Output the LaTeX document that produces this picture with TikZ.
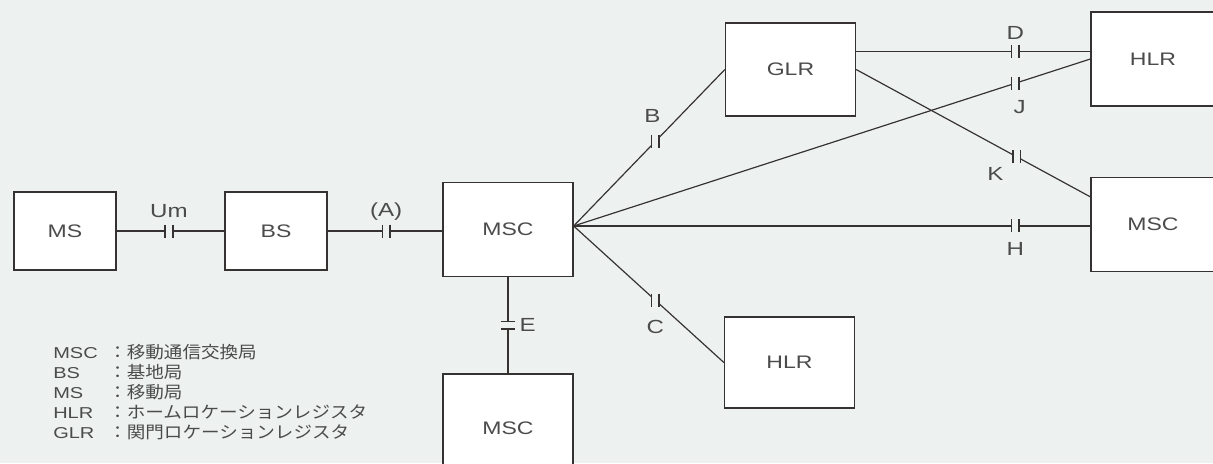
\documentclass[tikz,border=0pt]{standalone}
\usepackage{fontspec}
\setmainfont{Liberation Sans}[FakeStretch=1.27]
\newfontfamily\jp{Noto Sans CJK JP}[FakeStretch=1.1]
\usetikzlibrary{calc}

\definecolor{paper}{RGB}{237,242,240}
\definecolor{ink}{RGB}{55,50,50}
\definecolor{txt}{RGB}{75,75,75}
\newcommand{\legendjp}{\jp\fontsize{12}{14}\selectfont}

\tikzset{
  unit/.style={draw=ink, fill=white, line width=0.9pt, inner sep=0pt, text=txt, font=\fontsize{12.9}{15}\selectfont},
  smallunit/.style={unit, minimum width=2.55cm, minimum height=1.95cm},
  bigunit/.style={unit, minimum width=3.25cm, minimum height=2.35cm},
  link/.style={draw=ink, line width=0.85pt},
  iflabel/.style={text=txt, inner sep=0pt, font=\fontsize{13.5}{15}\selectfont},
  legend/.style={text=txt, inner sep=0pt, font=\fontsize{11.2}{13}\selectfont},
  capv/.pic={
    \fill[paper] (-3.2,-6) rectangle (3.2,6);
    \draw[ink, line width=1.1pt] (-3.8,-6.5) -- (-3.8,6.5) (3.8,-6.5) -- (3.8,6.5);
  },
  caph/.pic={
    \fill[paper] (-6,-3.2) rectangle (6,3.2);
    \draw[ink, line width=1.1pt] (-7,-3.8) -- (7,-3.8) (-7,3.8) -- (7,3.8);
  },
}

\begin{document}
\begin{tikzpicture}[x=0.025cm, y=-0.025cm]
  \clip (0,0) rectangle (1213,463);
  \fill[paper] (0,0) rectangle (1213,463);

  % units
  \node[smallunit] (ms) at (65,231) {MS};
  \node[smallunit] (bs) at (276,231) {BS};
  \node[bigunit] (msc) at (508,229.5) {MSC};
  \node[bigunit, minimum height=2.7cm] (mscB) at (508,428) {MSC};
  \node[bigunit, minimum height=2.325cm] (glr) at (790.5,69.5) {GLR};
  \node[bigunit, minimum height=2.275cm] (hlrB) at (789.5,362.5) {HLR};
  \node[bigunit, minimum width=3.1cm] (hlrT) at (1153,59) {HLR};
  \node[bigunit, minimum width=3.1cm] (mscR) at (1153,224.5) {MSC};

  \coordinate (hub) at ([yshift=2.5pt]msc.east);
  \coordinate (glrD) at ($(glr.north east)!0.31!(glr.south east)$);
  \coordinate (mscK) at ($(mscR.north west)!0.21!(mscR.south west)$);

  % interfaces
  \draw[link] (ms) -- (bs) pic[pos=0.486]{capv} node[pos=0.486, iflabel, yshift=14.2pt] (lUm) {Um};
  \draw[link] (bs.east) -- (bs.east -| msc.west) pic[pos=0.51]{capv} node[pos=0.51, iflabel, yshift=13.5pt] (lA) {(A)};
  \draw[link] (hub) -- (glr.west) pic[pos=0.54]{capv} node[pos=0.54, iflabel, xshift=-2pt, yshift=18.5pt] (lB) {B};
  \draw[link] (hub) -- (hlrT.west) pic[pos=0.855]{capv} node[pos=0.855, iflabel, xshift=3pt, yshift=-17pt] (lJ) {J};
  \draw[link] (hub) -- (hub -| mscR.west) pic[pos=0.855]{capv} node[pos=0.855, iflabel, yshift=-16pt] (lH) {H};
  \draw[link] (hub) -- (hlrB.west) pic[pos=0.543]{capv} node[pos=0.543, iflabel, yshift=-19pt] (lC) {C};
  \draw[link] (glrD) -- (glrD -| hlrT.west) pic[pos=0.68]{capv} node[pos=0.68, iflabel, yshift=13.5pt] (lD) {D};
  \draw[link] (glr.east) -- (mscK) pic[pos=0.685]{capv} node[pos=0.685, iflabel, xshift=-15pt, yshift=-12pt] (lK) {K};
  \draw[link] (msc.south) -- (mscB.north) pic[pos=0.5]{caph} node[pos=0.5, iflabel, xshift=14pt] (lE) {E};

  % legend
  \node[legend, anchor=base west] (legMSC) at (53,358) {\makebox[39.1pt][l]{MSC}{\legendjp ：移動通信交換局}};
  \node[legend, anchor=base west] (legBS) at (53,378) {\makebox[39.1pt][l]{BS}{\legendjp ：基地局}};
  \node[legend, anchor=base west] (legMS) at (53,398) {\makebox[39.1pt][l]{MS}{\legendjp ：移動局}};
  \node[legend, anchor=base west] (legHLR) at (53,418) {\makebox[39.1pt][l]{HLR}{\legendjp ：ホームロケーションレジスタ}};
  \node[legend, anchor=base west] (legGLR) at (53,438) {\makebox[39.1pt][l]{GLR}{\legendjp ：関門ロケーションレジスタ}};
\end{tikzpicture}
\end{document}
